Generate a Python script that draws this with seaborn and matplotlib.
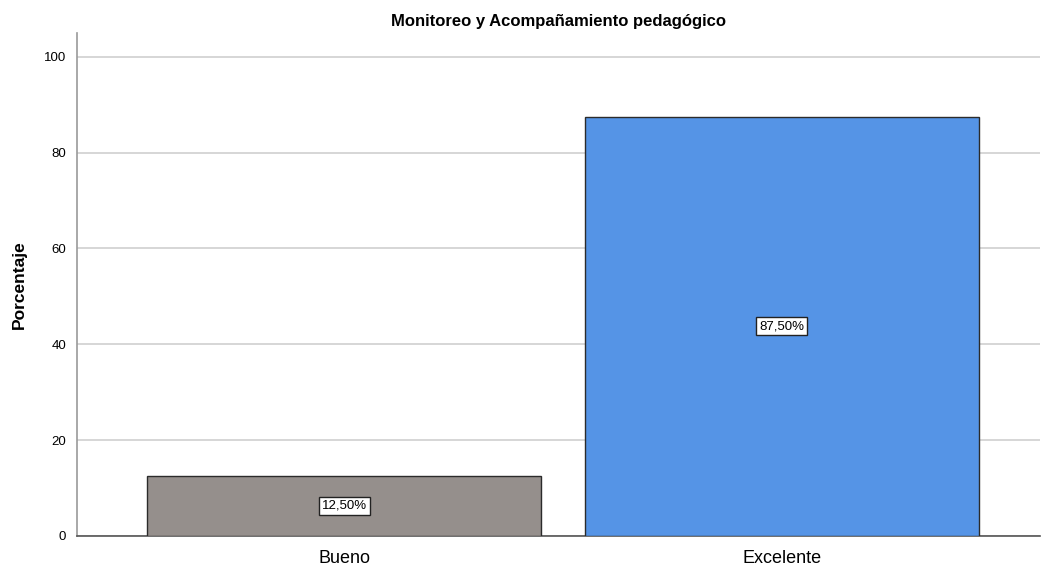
import matplotlib
matplotlib.use('Agg')
import matplotlib.pyplot as plt
import seaborn as sns

# data
categories = ['Bueno', 'Excelente']
percentages = [12.5, 87.5]
labels = ['12,50%', '87,50%']
colors = ['#958f8c', '#5594e6']

sns.set_style('white')
plt.rcParams['font.family'] = ['Liberation Sans', 'DejaVu Sans']
plt.rcParams['text.color'] = 'black'
plt.rcParams['axes.labelcolor'] = 'black'
plt.rcParams['xtick.color'] = 'black'
plt.rcParams['ytick.color'] = 'black'

figure = plt.figure(figsize=(10.42, 5.67), dpi=100)
axes = figure.add_axes([0.074, 0.055, 0.924, 0.887])

sns.barplot(x=categories, y=percentages, hue=categories, palette=colors,
            width=0.9, edgecolor='#2b2b2b', linewidth=1, saturation=1,
            legend=False, ax=axes, zorder=3)

axes.set_xlim(-0.61, 1.59)
axes.set_ylim(0, 105)
axes.set_yticks([0, 20, 40, 60, 80, 100])
axes.grid(axis='y', color='#d0d0d0', linewidth=1.2, zorder=0)
axes.set_axisbelow(True)

for side in ('top', 'right'):
    axes.spines[side].set_visible(False)
axes.spines['left'].set_color('#999999')
axes.spines['bottom'].set_color('#555555')
axes.spines['left'].set_linewidth(1.2)
axes.spines['bottom'].set_linewidth(1.2)
axes.tick_params(axis='both', length=0)
axes.tick_params(axis='y', labelsize=9.5, pad=8)
axes.tick_params(axis='x', labelsize=13, pad=10)

axes.set_title('Monitoreo y Acompañamiento pedagógico', fontsize=12,
               fontweight='bold', pad=5)
axes.set_ylabel('Porcentaje', fontsize=12.5, fontweight='bold', labelpad=12)
axes.set_xlabel('')

# value boxes in the middle of each bar
for bar, text in zip(axes.patches, labels):
    text_x = bar.get_x() + bar.get_width() / 2.0
    text_y = bar.get_height() / 2.0
    axes.text(text_x, text_y, text, ha='center', va='center', fontsize=9.5,
              zorder=5,
              bbox=dict(boxstyle='square,pad=0.22', facecolor='white',
                        edgecolor='#222222', linewidth=1))

figure.savefig('out.png', dpi=100)
